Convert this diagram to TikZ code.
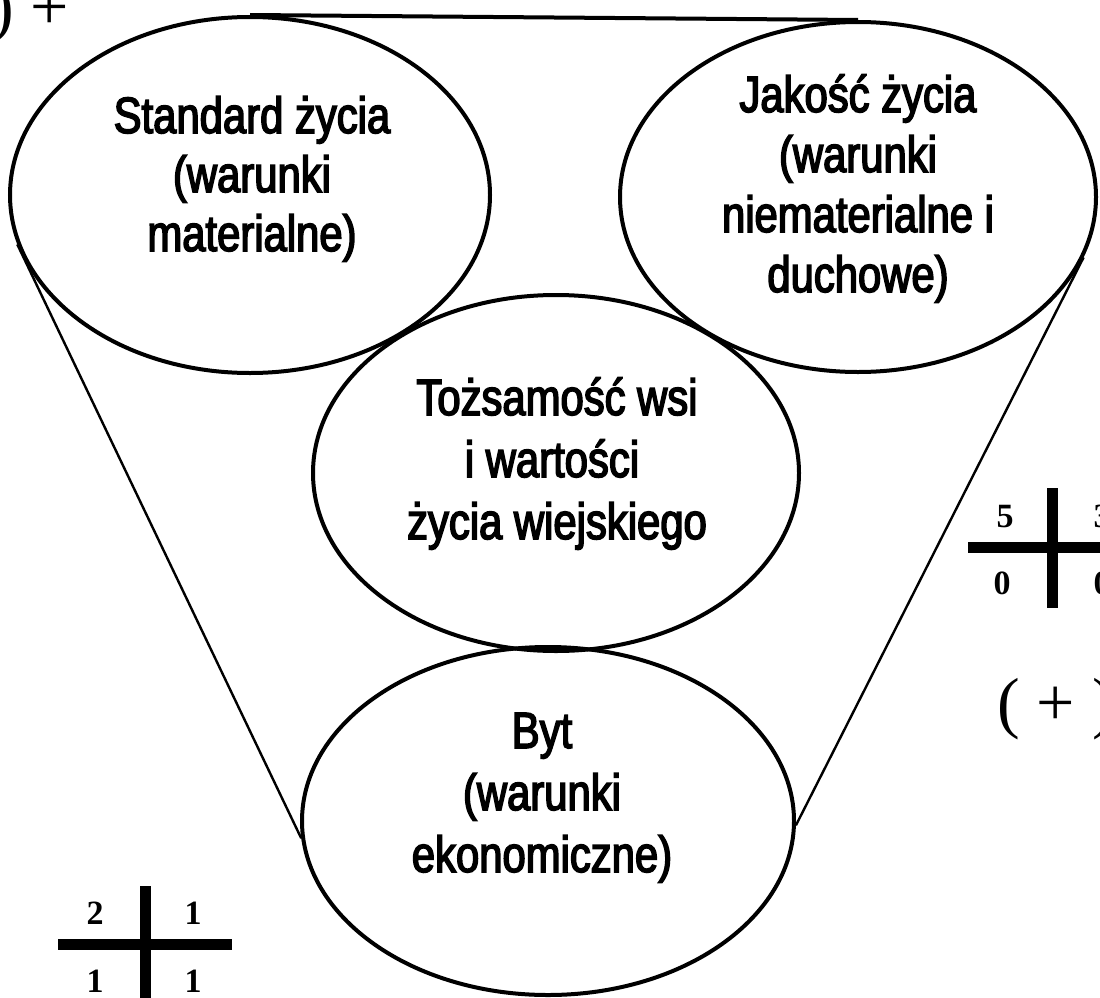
\documentclass[tikz,border=0pt]{standalone}
\usepackage{fontspec}
\setmainfont{Liberation Sans}
\newfontfamily\narrowsans{Liberation Sans}[FakeStretch=0.82,FakeBold=3]
\newfontfamily\tmsfont{Liberation Serif}
\usetikzlibrary{shapes.geometric}
\begin{document}
\begin{tikzpicture}[x=1pt,y=-1pt,
  oval/.style={ellipse, draw=black, line width=4pt, inner sep=0pt},
  txt/.style={font=\narrowsans\fontsize{51}{61}\selectfont, anchor=base, inner sep=0pt},
  num/.style={font=\tmsfont\bfseries\fontsize{34}{40}\selectfont, anchor=base, inner sep=0pt},
  sym/.style={font=\tmsfont\fontsize{68}{80}\selectfont, anchor=base west, inner sep=0pt},
  side/.style={line width=2.4pt},
  bar/.style={line width=11pt, line cap=butt}]
\fill[white] (0,0) rectangle (1100,998);
\useasboundingbox (0,0) rectangle (1100,998);

% ellipses
\node[oval, minimum width=480pt, minimum height=356pt] (L) at (250,195) {};
\node[oval, minimum width=476pt, minimum height=350pt] (R) at (858,197) {};
\node[oval, minimum width=486pt, minimum height=356pt] (M) at (556,473) {};
\node[oval, minimum width=492pt, minimum height=348pt] (B) at (548,821) {};

% funnel outline
\draw[side] (L.192) -- (B.184);
\draw[side] (R.345) -- (B.359);
\draw[line width=4pt] (L.north) -- (R.north);

% texts
\node[txt] (l1) at (252,133) {Standard życia};
\node[txt] (l2) at (252,192) {(warunki};
\node[txt] (l3) at (252,251) {materialne)};

\node[txt] (r1) at (858,112) {Jakość życia};
\node[txt] (r2) at (858,172) {(warunki};
\node[txt] (r3) at (858,232) {niematerialne i};
\node[txt] (r4) at (858,292) {duchowe)};

\node[txt] (m1) at (557,415) {Tożsamość wsi};
\node[txt] (m2) at (552,477) {i wartości};
\node[txt] (m3) at (557,539) {życia wiejskiego};

\node[txt] (b1) at (542,748) {Byt};
\node[txt] (b2) at (542,810) {(warunki};
\node[txt] (b3) at (542,872) {ekonomiczne)};

% symbols
\node[sym] (p1) at (-9,30) {) +};
\node[sym] (p2) at (997,725) {( + )};

% bottom-left cross
\draw[bar] (58,944) -- (232,944);
\draw[bar] (145,886) -- (145,1005);
\node[num] (n1) at (95,924) {2};
\node[num] (n2) at (193,924) {1};
\node[num] (n3) at (95,992) {1};
\node[num] (n4) at (193,992) {1};

% right cross
\draw[bar] (968,547) -- (1110,547);
\draw[bar] (1052,488) -- (1052,608);
\node[num] (n5) at (1005,527) {5};
\node[num] (n6) at (1102,527) {3};
\node[num] (n7) at (1002,594) {0};
\node[num] (n8) at (1102,594) {0};
\end{tikzpicture}
\end{document}
